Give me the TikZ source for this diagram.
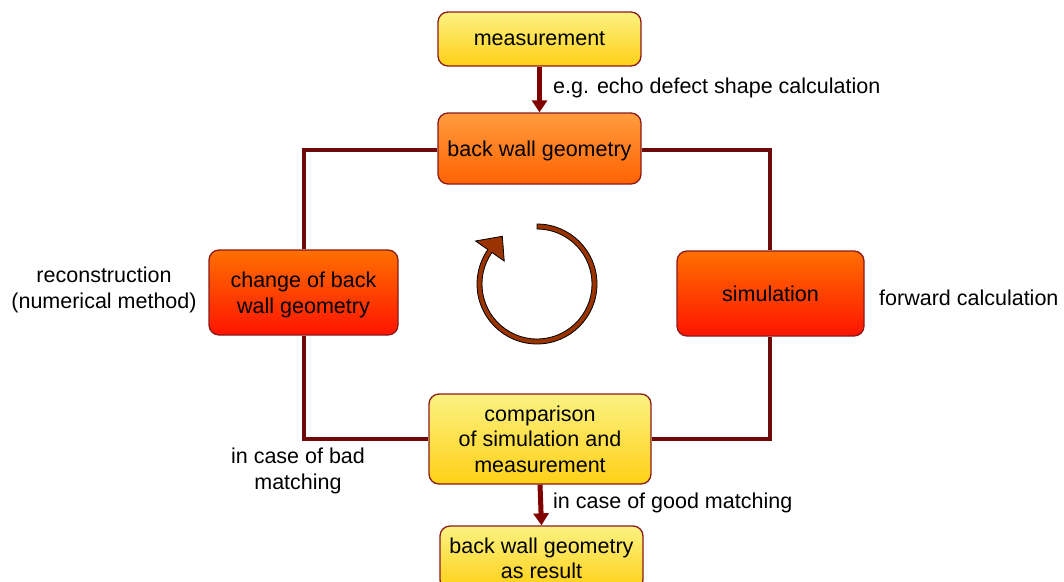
\documentclass[tikz,border=0pt]{standalone}
\usepackage{fontspec}
\setmainfont{Liberation Sans}
\usetikzlibrary{arrows.meta}
\definecolor{bordercol}{HTML}{8B1A1A}
\definecolor{linecol}{HTML}{6E0A0A}
\definecolor{arrowcol}{HTML}{800000}
\definecolor{yelTop}{HTML}{FBF282}
\definecolor{yelBot}{HTML}{FFD016}
\definecolor{orTop}{HTML}{FF9C40}
\definecolor{orBot}{HTML}{FF6200}
\definecolor{redTop}{HTML}{FF7000}
\definecolor{redBot}{HTML}{FF1400}
\definecolor{circcol}{HTML}{993300}
\begin{document}
\begin{tikzpicture}[x=1pt,y=-1pt,
  every node/.style={font=\fontsize{21.5}{25.5}\selectfont, text=black},
  box/.style={draw=bordercol, line width=1.3pt, rounded corners=10pt, align=center, inner sep=0pt, shading=axis, text depth=0pt},
  yelbox/.style={box, top color=yelTop, bottom color=yelBot},
  orbox/.style={box, top color=orTop, bottom color=orBot},
  redbox/.style={box, top color=redTop, bottom color=redBot},
  loopline/.style={draw=linecol, line width=3.2pt},
  mainarrow/.style={draw=arrowcol, line width=5pt, -{Triangle[length=12pt,width=15pt]}},
  lbl/.style={align=center, inner sep=0pt}
]
\useasboundingbox (0,0) rectangle (1064,581);

\node[yelbox, minimum width=203pt, minimum height=54pt] (meas) at (539.5,39) {measurement};
\node[orbox, minimum width=203pt, minimum height=71pt] (bwg) at (539.5,148.5) {back wall geometry};
\node[redbox, minimum width=189pt, minimum height=85pt] (chg) at (303.5,292.5) {change of back\\wall geometry};
\node[redbox, minimum width=187pt, minimum height=85pt] (sim) at (770.5,293.5) {simulation};
\node[yelbox, minimum width=222pt, minimum height=90pt] (cmp) at (540,439) {comparison\\of simulation and\\measurement};
\node[yelbox, minimum width=203pt, minimum height=64pt] (res) at (541.5,558) {back wall geometry\\as result};

% loop connectors
\coordinate (tl) at (304,150);
\coordinate (tr) at (770,150);
\coordinate (bl) at (304,439);
\coordinate (br) at (770,439);
\draw[loopline] (bwg.west |- tl) -- (tl) -- (chg.north -| tl);
\draw[loopline] (chg.south -| bl) -- (bl) -- (cmp.west |- bl);
\draw[loopline] (cmp.east |- br) -- (br) -- (sim.south -| br);
\draw[loopline] (sim.north -| tr) -- (tr) -- (bwg.east |- tr);

% main arrows
\draw[mainarrow] (meas.south) -- (bwg.north);
\draw[mainarrow] (cmp.south) -- (res.north);

% labels
\node[lbl, anchor=west] (l1) at (553,88) {e.g. echo defect shape calculation};
\node[lbl, anchor=west] (l2) at (553,503) {in case of good matching};
\node[lbl, anchor=west] (l3) at (879,298) {forward calculation};
\node[lbl] (l4) at (104,290) {reconstruction\\(numerical method)};
\node[lbl] (l5) at (298,471) {in case of bad\\matching};

% circular arrow
\coordinate (cc) at (537,284);
\filldraw[fill=circcol, draw=black, line width=0.8pt, line join=miter]
  ([shift={(cc)}]90:60pt) arc[start angle=90, end angle=-215, radius=60pt]
  -- ([shift={(cc)}]145:75pt)
  -- ([shift={(cc)}]126:59pt)
  -- ([shift={(cc)}]145:40pt)
  -- ([shift={(cc)}]145:55pt)
  arc[start angle=-215, end angle=90, radius=55pt] -- cycle;
\end{tikzpicture}
\end{document}
